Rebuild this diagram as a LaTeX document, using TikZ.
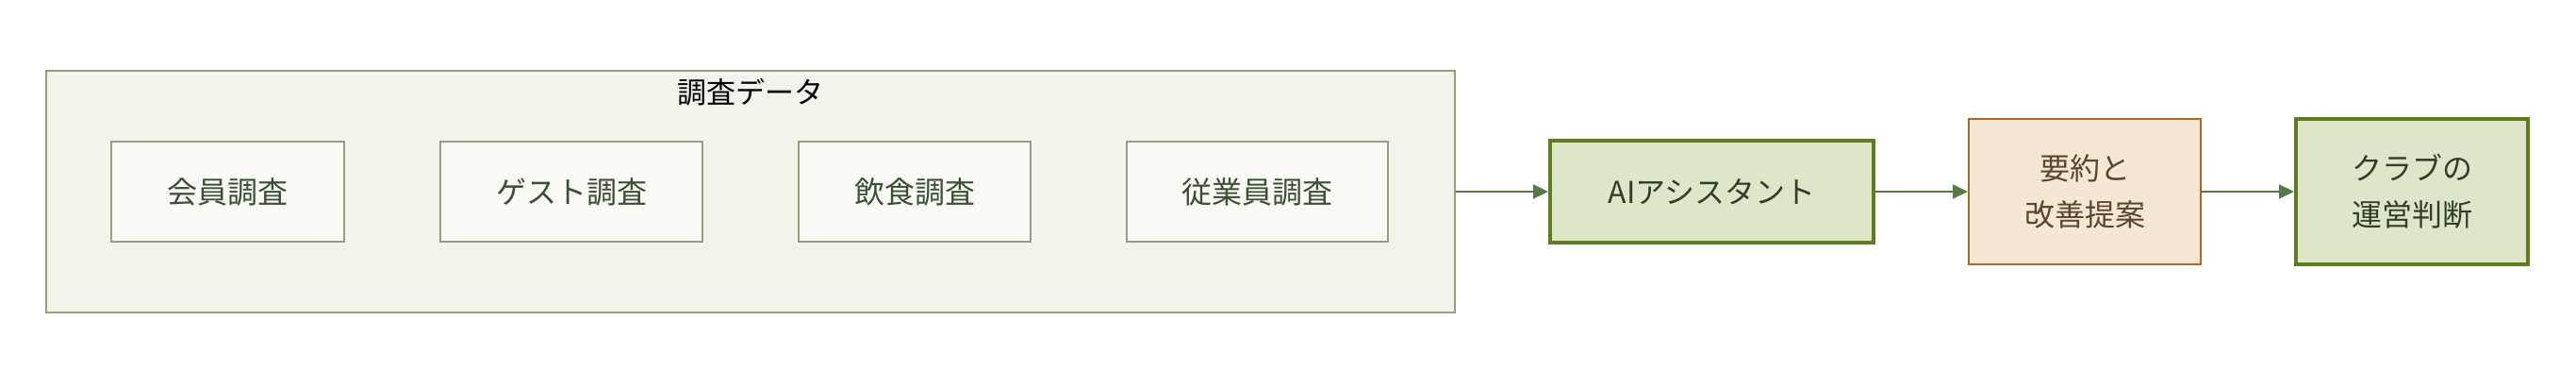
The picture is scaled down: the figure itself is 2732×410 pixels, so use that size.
\documentclass[tikz,border=0pt]{standalone}
\usepackage{fontspec}
\setmainfont{Noto Sans CJK JP}
\usepackage{tikz}
\usetikzlibrary{arrows.meta,positioning}

\definecolor{panelfill}{HTML}{F2F4EC}
\definecolor{paneldraw}{HTML}{92A27A}
\definecolor{srcfill}{HTML}{F9FAF5}
\definecolor{srctext}{HTML}{3B4F35}
\definecolor{aifill}{HTML}{DDE6C8}
\definecolor{aidraw}{HTML}{5F7D1F}
\definecolor{aitext}{HTML}{2F3F2A}
\definecolor{sumfill}{HTML}{F6E6D4}
\definecolor{sumdraw}{HTML}{B4661C}
\definecolor{sumtext}{HTML}{5A4530}
\definecolor{flow}{HTML}{557A45}

\begin{document}
\begin{tikzpicture}[x=1pt,y=1pt,>={Triangle[length=16pt,width=15pt]},node distance=98pt,align=center,
    font=\fontsize{32}{49}\selectfont,
    panel/.style={draw=paneldraw,fill=panelfill,line width=2pt,minimum width=1494pt,minimum height=256pt},
    source/.style={draw=paneldraw,fill=srcfill,line width=2pt,text=srctext,minimum height=106pt},
    aibox/.style={draw=aidraw,fill=aifill,line width=4pt,text=aitext,minimum height=107pt},
    sumbox/.style={draw=sumdraw,fill=sumfill,line width=2pt,text=sumtext,minimum width=246pt,minimum height=154pt},
    flowline/.style={->,color=flow,line width=2pt}]
		\useasboundingbox (0,0) rectangle (2732,410);
		\node[panel] (data) at (796,207) {};
		\node[below=6pt of data.north,font=\fontsize{31}{49}\selectfont] (data_t) {調査データ};
		\node[source,minimum width=247pt] (s_1) at (241.5,207) {会員調査};
		\node[source,minimum width=278pt] [right=100pt of s_1] (s_2) {ゲスト調査};
		\node[source,minimum width=246pt] [right=100pt of s_2] (s_3) {飲食調査};
		\node[source,minimum width=277pt] [right=100pt of s_3] (s_4) {従業員調査};
		\node[aibox,minimum width=343pt] [right=of data] (ai) {AIアシスタント};
		\node[sumbox] [right=of ai] (sum) {要約と\\改善提案};
		\node[aibox,minimum width=246pt,minimum height=154pt] [right=of sum] (club) {クラブの\\運営判断};
		\path[flowline]
			(data) edge (ai)
			(ai) edge (sum)
			(sum) edge (club);
	\end{tikzpicture}
\end{document}
